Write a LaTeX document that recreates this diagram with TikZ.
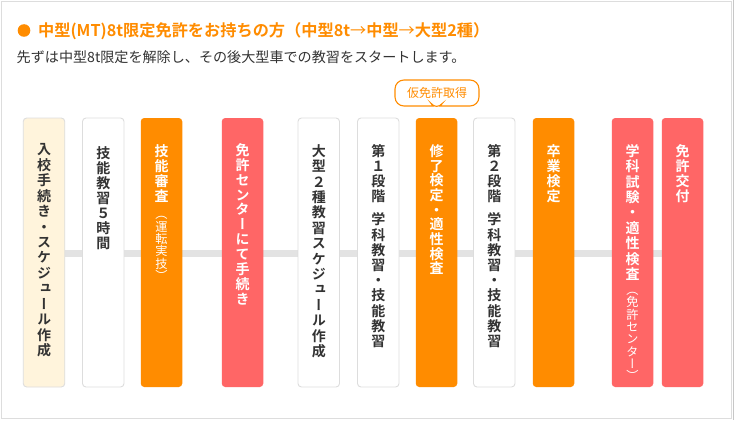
\documentclass[tikz,border=0pt]{standalone}
\usepackage{fontspec}
\setmainfont{Noto Sans CJK JP}[BoldFont={Noto Sans CJK JP Bold}]
\newfontfamily\vjp{Noto Sans CJK JP}[RawFeature={+vert},BoldFont={Noto Sans CJK JP Bold}]
\usetikzlibrary{backgrounds,shapes.callouts}
\definecolor{orng}{HTML}{FF8C00}
\definecolor{rd}{HTML}{FF6666}
\definecolor{cream}{HTML}{FFF4DC}
\definecolor{bordergray}{HTML}{DDDDDD}
\definecolor{linegray}{HTML}{E3E3E3}
\definecolor{txt}{HTML}{333333}
\tikzset{
  stepbox/.style={rounded corners=3.5pt, minimum width=41.5pt, minimum height=269pt, inner sep=0pt},
  whitebox/.style={stepbox, fill=white, draw=bordergray, line width=0.9pt},
  creambox/.style={stepbox, fill=cream, draw=bordergray, line width=0.9pt},
  orangebox/.style={stepbox, fill=orng},
  redbox/.style={stepbox, fill=rd},
  vch/.style={anchor=center, inner sep=0pt, text height=12.3pt, text depth=1.7pt,
              font=\vjp\bfseries\fontsize{14}{15}\selectfont},
  vchs/.style={anchor=center, inner sep=0pt, text height=10.6pt, text depth=1.4pt,
               font=\vjp\fontsize{12.2}{12}\selectfont},
  dk/.style={text=txt},
  wt/.style={text=white},
}
% #1 name prefix, #2 x, #3 centre y of first char, #4 pitch, #5 style, #6 chars
\newcommand\vcol[6]{%
  \foreach \ch [count=\k from 0] in {#6} {\node[#5] (#1-\k) at (#2, {#3+\k*#4}) {\ch};}}
\begin{document}
\begin{tikzpicture}[x=1pt,y=-1pt]
\useasboundingbox (0,0) rectangle (735,420);
% frame
\draw[color=bordergray, line width=0.8pt] (1,1) rectangle (731,418.5);
\draw[color=black!22, line width=1.6pt] (733.5,0) -- (733.5,420);
% title
\fill[orng] (24,30.5) circle (6.3);
\node[anchor=west, inner sep=0pt, text=orng, font=\bfseries\fontsize{16.2}{16}\selectfont] (title) at (38,31)
  {中型(MT)8t限定免許をお持ちの方（中型8t{\mdseries →}中型{\mdseries →}大型2種）};
\node[anchor=west, inner sep=0pt, text=txt, font=\fontsize{14.1}{14}\selectfont] (sub) at (16.5,57)
  {先ずは中型8t限定を解除し、その後大型車での教習をスタートします。};
% boxes
\node[creambox]  (b1)  at (44,252.5) {};
\node[whitebox]  (b2)  at (103.25,252.5) {};
\node[orangebox] (b3)  at (161.5,252.5) {};
\node[redbox]    (b4)  at (242.5,252.5) {};
\node[whitebox]  (b5)  at (318.75,252.5) {};
\node[whitebox]  (b6)  at (378.25,252.5) {};
\node[orangebox] (b7)  at (436.5,252.5) {};
\node[whitebox]  (b8)  at (494.25,252.5) {};
\node[orangebox] (b9)  at (553.5,252.5) {};
\node[redbox]    (b10) at (632.5,252.5) {};
\node[redbox]    (b11) at (682.5,252.5) {};
% texts
\vcol{t1}{44}{149.5}{15.45}{vch,dk}{入,校,手,続,き,・,ス,ケ,ジ,ュ,ー,ル,作,成}
\vcol{t2}{103.25}{153}{15.1}{vch,dk}{技,能,教,習,５,時,間}
\vcol{t3}{161.5}{151}{15.1}{vch,wt}{技,能,審,査}
\vcol{t3s}{161.5}{214}{12.4}{vchs,wt}{（,運,転,実,技,）}
\vcol{t4}{242.5}{150}{14.9}{vch,wt}{免,許,セ,ン,タ,ー,に,て,手,続,き}
\vcol{t5}{318.75}{151}{15.4}{vch,dk}{大,型,２,種,教,習,ス,ケ,ジ,ュ,ー,ル,作,成}
\vcol{t6a}{378.25}{151}{15.2}{vch,dk}{第,１,段,階}
\vcol{t6b}{378.25}{219.5}{15.2}{vch,dk}{学,科,教,習,・,技,能,教,習}
\vcol{t7}{436.5}{151}{14.7}{vch,wt}{修,了,検,定,・,適,性,検,査}
\vcol{t8a}{494.25}{151}{15.2}{vch,dk}{第,２,段,階}
\vcol{t8b}{494.25}{219.5}{15.2}{vch,dk}{学,科,教,習,・,技,能,教,習}
\vcol{t9}{553.5}{151}{15.1}{vch,wt}{卒,業,検,定}
\vcol{t10}{632.5}{151}{15.4}{vch,wt}{学,科,試,験,・,適,性,検,査}
\vcol{t10s}{632.5}{290}{12.3}{vchs,wt}{（,免,許,セ,ン,タ,ー,）}
\vcol{t11}{682.5}{151}{15.1}{vch,wt}{免,許,交,付}
% callout
\node[rectangle callout, rounded corners=9pt, draw=orng, line width=1.1pt, fill=white,
      minimum width=84pt, minimum height=26pt, inner sep=0pt, text=orng,
      font=\fontsize{12}{12}\selectfont,
      callout absolute pointer={(436.5,110.5)}] (tag) at (437,93) {仮免許取得};
% background
\begin{scope}[on background layer]
  \fill[white] (0,0) rectangle (735,420);
  \draw[linegray, line width=6.5pt] (b1.east |- 0,253.5) -- (b11.west |- 0,253.5);
\end{scope}
\end{tikzpicture}
\end{document}
